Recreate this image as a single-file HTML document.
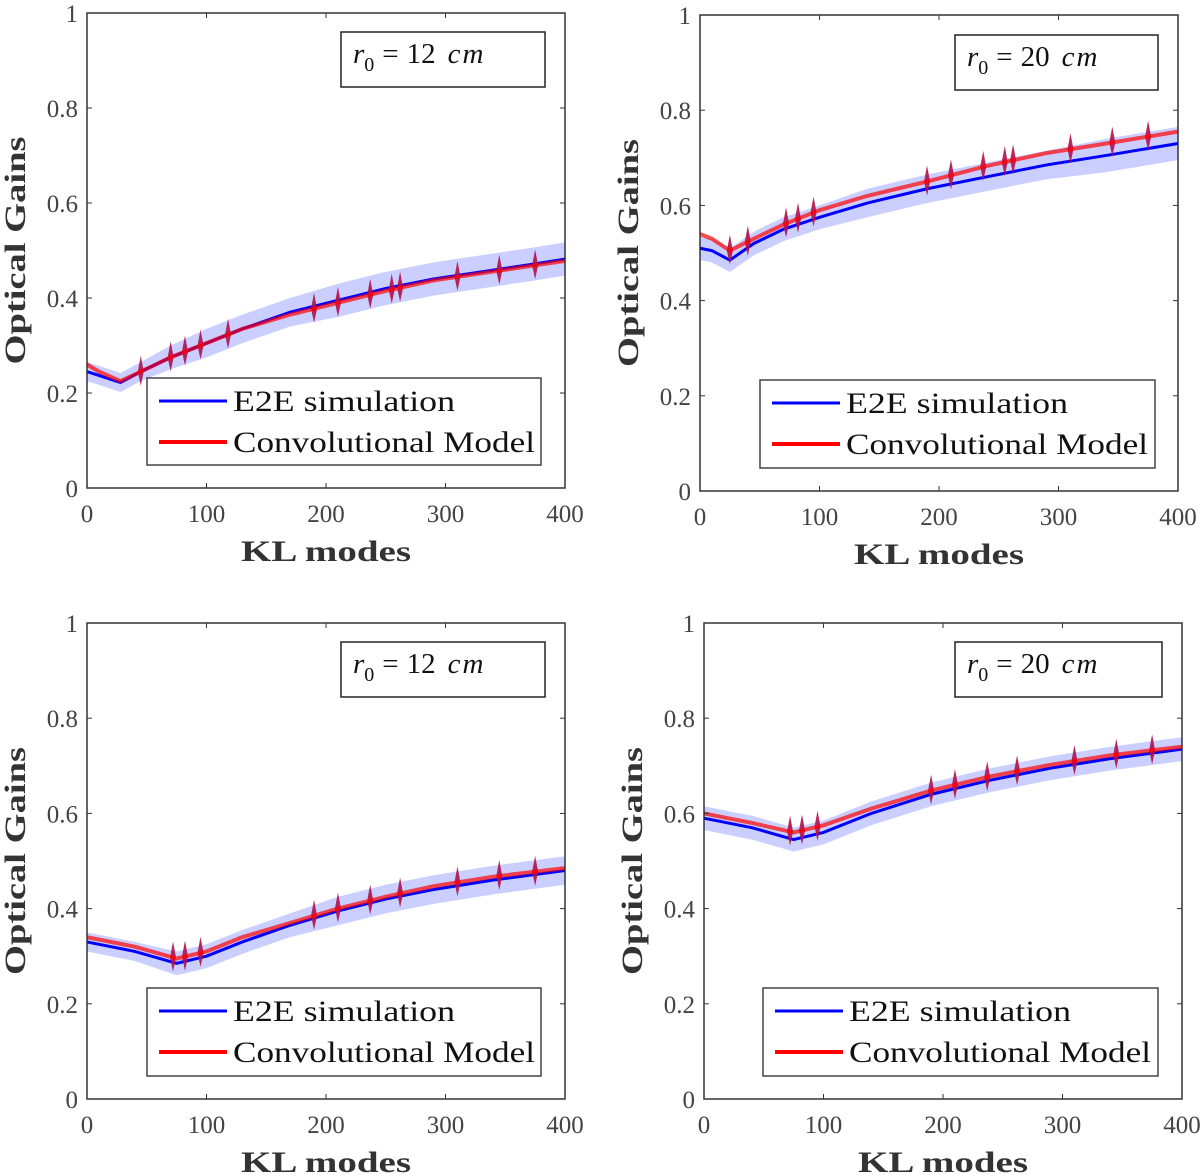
<!DOCTYPE html>
<html><head><meta charset="utf-8">
<style>
html,body{margin:0;padding:0;background:#fff;}
svg{display:block;font-family:"Liberation Serif",serif;}
</style></head>
<body>
<svg id="fig" width="1200" height="1175" viewBox="0 0 1200 1175" xmlns="http://www.w3.org/2000/svg"></svg>
<script>
// ---- data ----
const xTicks = [0, 100, 200, 300, 400];
const yTicks = [0, 0.2, 0.4, 0.6, 0.8, 1];
const yTickLabels = ["0", "0.2", "0.4", "0.6", "0.8", "1"];
const legendLabels = ["E2E simulation", "Convolutional Model"];
const panelTitles = ["r0 = 12 cm", "r0 = 20 cm", "r0 = 12 cm", "r0 = 20 cm"];

const modes1 = [0, 10, 28, 45, 70, 100, 130, 170, 210, 250, 290, 330, 370, 400];
const e2e1   = [0.245, 0.237, 0.222, 0.245, 0.275, 0.305, 0.335, 0.37, 0.395, 0.42, 0.44, 0.455, 0.47, 0.482];
const conv1  = [0.26, 0.245, 0.225, 0.245, 0.275, 0.305, 0.335, 0.365, 0.39, 0.415, 0.437, 0.452, 0.467, 0.478];
const band1  = [0.02, 0.02, 0.02, 0.02, 0.025, 0.03, 0.03, 0.03, 0.035, 0.035, 0.035, 0.035, 0.035, 0.035];
const spikes1 = [45, 70, 82, 95, 118, 190, 210, 237, 255, 262, 310, 345, 375];

const modes2 = [0, 10, 25, 45, 70, 100, 140, 190, 240, 290, 340, 400];
const e2e2   = [0.51, 0.505, 0.485, 0.52, 0.55, 0.575, 0.605, 0.635, 0.66, 0.685, 0.705, 0.73];
const conv2  = [0.54, 0.53, 0.505, 0.53, 0.56, 0.59, 0.62, 0.65, 0.683, 0.71, 0.73, 0.755];
const band2  = [0.025, 0.025, 0.025, 0.025, 0.025, 0.025, 0.03, 0.03, 0.03, 0.03, 0.035, 0.035];
const spikes2 = [25, 40, 72, 82, 95, 190, 210, 237, 255, 262, 310, 345, 375];

const modes3 = [0, 40, 75, 100, 130, 170, 210, 250, 290, 340, 400];
const e2e3   = [0.33, 0.31, 0.285, 0.3, 0.33, 0.365, 0.395, 0.42, 0.44, 0.46, 0.48];
const conv3  = [0.34, 0.32, 0.295, 0.31, 0.34, 0.37, 0.4, 0.425, 0.447, 0.467, 0.485];
const band3  = [0.02, 0.02, 0.025, 0.025, 0.025, 0.025, 0.03, 0.03, 0.03, 0.03, 0.03];
const spikes3 = [72, 82, 95, 190, 210, 237, 262, 310, 345, 375];

const modes4 = [0, 40, 75, 100, 140, 190, 240, 290, 340, 400];
const e2e4   = [0.59, 0.57, 0.545, 0.56, 0.6, 0.64, 0.67, 0.695, 0.715, 0.735];
const conv4  = [0.6, 0.58, 0.56, 0.575, 0.61, 0.648, 0.678, 0.702, 0.722, 0.74];
const band4  = [0.025, 0.025, 0.025, 0.025, 0.025, 0.025, 0.025, 0.025, 0.025, 0.025];
const spikes4 = [72, 82, 95, 190, 210, 237, 262, 310, 345, 375];

const panels = [
  {modes: modes1, e2e: e2e1, conv: conv1, band: band1, spikes: spikes1, box: [87, 13, 565, 488], leg: [147, 378, 541, 465], tb: [341, 32, 545, 87], tv: "12"},
  {modes: modes2, e2e: e2e2, conv: conv2, band: band2, spikes: spikes2, box: [700, 15, 1178, 491], leg: [760, 380, 1155, 468], tb: [955, 35, 1158, 90], tv: "20"},
  {modes: modes3, e2e: e2e3, conv: conv3, band: band3, spikes: spikes3, box: [87, 623, 565, 1099], leg: [147, 988, 541, 1076], tb: [341, 642, 545, 697], tv: "12"},
  {modes: modes4, e2e: e2e4, conv: conv4, band: band4, spikes: spikes4, box: [704, 623, 1182, 1099], leg: [763, 988, 1158, 1076], tb: [955, 642, 1162, 697], tv: "20"}
];

const NS = "http://www.w3.org/2000/svg";
const svg = document.getElementById("fig");
function mk(tag, attrs, parent) {
  const e = document.createElementNS(NS, tag);
  for (const k in attrs) e.setAttribute(k, attrs[k]);
  (parent || svg).appendChild(e);
  return e;
}
function interp(xs, ys, x) {
  for (let i = 0; i < xs.length - 1; i++) {
    if (x <= xs[i + 1]) { const t = (x - xs[i]) / (xs[i + 1] - xs[i]); return ys[i] + t * (ys[i + 1] - ys[i]); }
  }
  return ys[ys.length - 1];
}

panels.forEach((p, pi) => {
  const [x0, y0, x1, y1] = p.box;
  const sx = v => x0 + (v / 400) * (x1 - x0);
  const sy = v => y1 - v * (y1 - y0);
  const g = mk("g", {});
  
  

  let up = [], dn = [];
  for (let i = 0; i < p.modes.length; i++) {
    up.push(sx(p.modes[i]) + "," + sy(p.e2e[i] + p.band[i]));
    dn.unshift(sx(p.modes[i]) + "," + sy(p.e2e[i] - p.band[i]));
  }
  const band = mk("polygon", {points: up.concat(dn).join(" "), fill: "#b4baff", opacity: "0.7"}, g);
  
  

  const e2e = mk("polyline", {points: p.modes.map((m, i) => sx(m) + "," + sy(p.e2e[i])).join(" "), fill: "none", stroke: "#0000ff", "stroke-width": "3"}, g);
  
  

  p.spikes.forEach(m => {
    const v = interp(p.modes, p.conv, m);
    const cx = sx(m), cy = sy(v);
    const sp = mk("polygon", {points: `${cx},${cy - 16} ${cx + 3},${cy} ${cx},${cy + 14} ${cx - 3},${cy}`, fill: "#b0104a", opacity: "0.9"}, g);
    
    
  });

  const conv = mk("polyline", {points: p.modes.map((m, i) => sx(m) + "," + sy(p.conv[i])).join(" "), fill: "none", stroke: "#ff0000", "stroke-opacity": "0.7", "stroke-width": "4"}, g);
  
  

  const ax = mk("rect", {x: x0, y: y0, width: x1 - x0, height: y1 - y0, fill: "none", stroke: "#333", "stroke-width": "1.5"}, g);
  
  

  xTicks.forEach(t => {
    const x = sx(t);
    mk("line", {x1: x, y1: y1, x2: x, y2: y1 - 5, stroke: "#333"}, g);
    mk("line", {x1: x, y1: y0, x2: x, y2: y0 + 5, stroke: "#333"}, g);
    const tl = mk("text", {x: x, y: y1 + 34, "text-anchor": "middle", "font-size": "25", fill: "#444"}, g);
    tl.textContent = t;
    
    
  });
  yTicks.forEach((t, i) => {
    const y = sy(t);
    mk("line", {x1: x0, y1: y, x2: x0 + 5, y2: y, stroke: "#333"}, g);
    mk("line", {x1: x1, y1: y, x2: x1 - 5, y2: y, stroke: "#333"}, g);
    const tl = mk("text", {x: x0 - 9, y: y + 9, "text-anchor": "end", "font-size": "25", fill: "#444"}, g);
    tl.textContent = yTickLabels[i];
    
    
  });

  const xt = mk("text", {x: (x0 + x1) / 2 - 85, y: y1 + 73, "font-size": "30", "font-weight": "bold", fill: "#333", textLength: "170", lengthAdjust: "spacingAndGlyphs"}, g);
  xt.textContent = "KL modes";
  
  
  const yc = (y0 + y1) / 2;
  const yt = mk("text", {x: x0 - 62, y: yc + 114, "font-size": "30", "font-weight": "bold", fill: "#333", textLength: "228", lengthAdjust: "spacingAndGlyphs", transform: `rotate(-90 ${x0 - 62} ${yc + 114})`}, g);
  yt.textContent = "Optical Gains";
  
  

  const [tx0, ty0, tx1, ty1] = p.tb;
  const tg = mk("g", {}, g);
  
  
  mk("rect", {x: tx0, y: ty0, width: tx1 - tx0, height: ty1 - ty0, fill: "#fff", stroke: "#222", "stroke-width": "1.5"}, tg);
  const tt = mk("text", {x: tx0 + 12, y: ty0 + 31, "font-size": "29", fill: "#111"}, tg);
  tt.innerHTML = `<tspan font-style="italic">r</tspan><tspan font-size="20" dy="8">0</tspan><tspan dy="-8" dx="8">=</tspan><tspan dx="8">${p.tv}</tspan><tspan dx="12" font-style="italic" letter-spacing="2">cm</tspan>`;

  const [lx0, ly0, lx1, ly1] = p.leg;
  const lg = mk("g", {}, g);
  
  
  mk("rect", {x: lx0, y: ly0, width: lx1 - lx0, height: ly1 - ly0, fill: "#fff", stroke: "#444", "stroke-width": "1.5"}, lg);
  const cols = ["#0000ff", "#ff0000"];
  const lens = [222, 302];
  legendLabels.forEach((lab, i) => {
    const ly = ly0 + 23 + i * 41;
    const ll = mk("line", {x1: lx0 + 12, y1: ly, x2: lx0 + 80, y2: ly, stroke: cols[i], "stroke-width": i ? 4 : 3}, lg);
    
    
    const lt = mk("text", {x: lx0 + 86, y: ly + 10, "font-size": "30", fill: "#111", textLength: lens[i], lengthAdjust: "spacingAndGlyphs"}, lg);
    lt.textContent = lab;
    
    
  });
});
</script>
</body></html>
